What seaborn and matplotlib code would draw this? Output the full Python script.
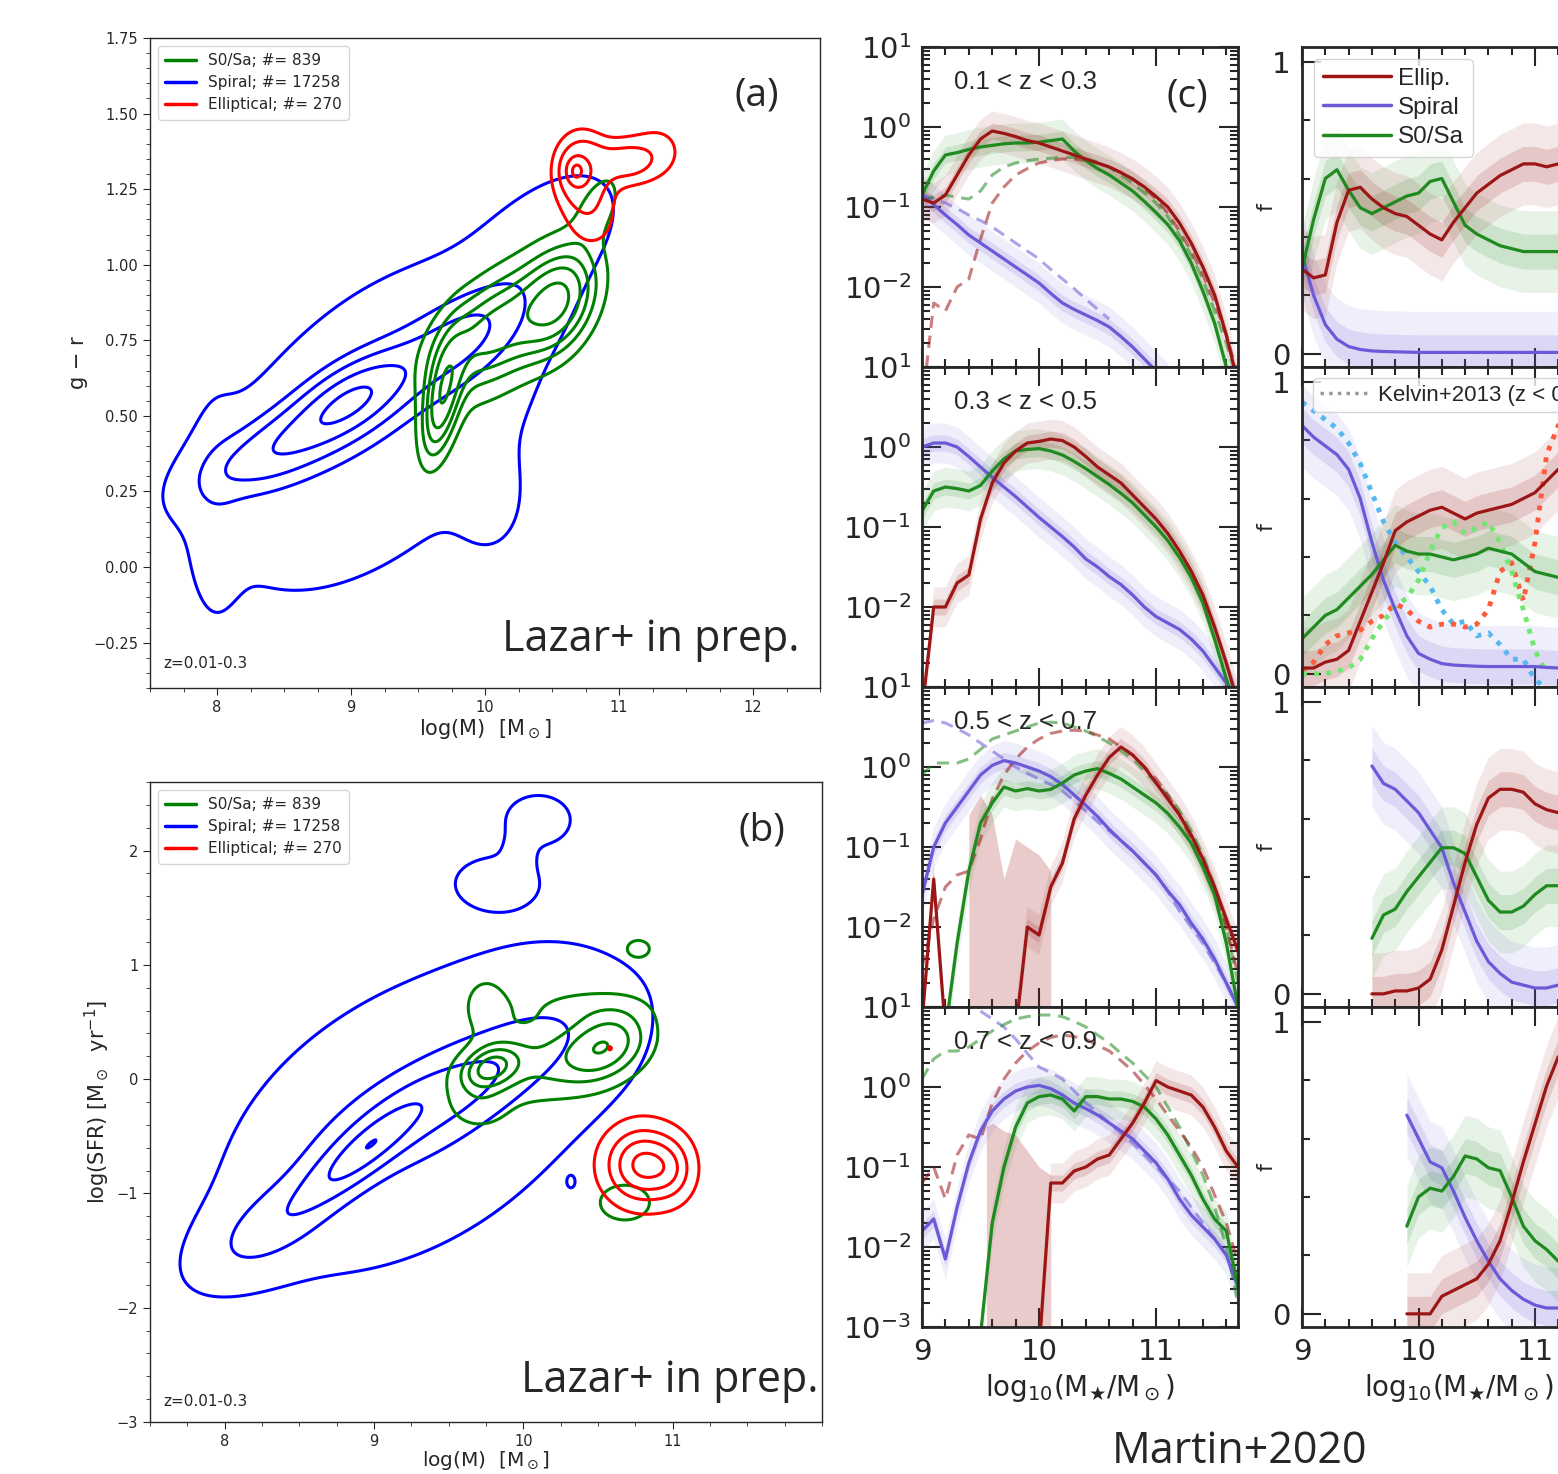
import numpy as np
import pandas as pd
import matplotlib
matplotlib.use("Agg")
import matplotlib.pyplot as plt
import seaborn as sns
from matplotlib.ticker import MultipleLocator, FixedLocator, NullFormatter, LogLocator

# ---------------- DATA ----------------
# Panels (a),(b): density blobs: (x0, y0, sx, sy, rho, weight)
A_S0 = [(9.68, 0.55, 0.10, 0.13, 0.5, 1.0), (10.55, 0.88, 0.18, 0.11, 0.3, 1.0),
        (10.05, 0.78, 0.30, 0.12, 0.5, 0.75), (10.2, 0.80, 0.45, 0.22, 0.6, 0.3),
        (10.85, 1.20, 0.12, 0.08, 0.5, 0.3)]
A_SPIRAL = [(9.0, 0.55, 0.30, 0.10, 0.6, 1.0), (8.4, 0.38, 0.35, 0.10, 0.6, 0.55),
            (9.8, 0.75, 0.35, 0.12, 0.6, 0.45), (9.2, 0.47, 0.90, 0.40, 0.5, 0.2),
            (10.5, 1.10, 0.35, 0.15, 0.5, 0.14), (10.05, 0.20, 0.18, 0.12, 0.0, 0.08),
            (7.98, 0.20, 0.13, 0.25, 0.0, 0.08)]
A_ELL = [(10.68, 1.31, 0.05, 0.03, 0.0, 1.0), (10.72, 1.31, 0.13, 0.08, 0.0, 0.8),
         (11.05, 1.34, 0.15, 0.05, 0.0, 0.5), (11.3, 1.38, 0.15, 0.07, 0.0, 0.22),
         (10.8, 1.15, 0.15, 0.08, 0.0, 0.25)]
A_LEVELS = {"S0": [0.15, 0.3, 0.45, 0.62, 0.85], "SP": [0.06, 0.22, 0.38, 0.62, 0.9],
            "EL": [0.1, 0.22, 0.5, 0.88]}

B_S0 = [(9.78, 0.10, 0.12, 0.12, 0.3, 1.0), (10.55, 0.30, 0.18, 0.20, 0.3, 0.8),
        (10.15, 0.15, 0.40, 0.25, 0.3, 0.5), (9.75, 0.65, 0.12, 0.20, 0.0, 0.3),
        (10.4, 0.65, 0.30, 0.12, 0.0, 0.2), (9.7, -0.25, 0.15, 0.15, 0.0, 0.25),
        (10.77, 1.14, 0.07, 0.07, 0.0, 0.35), (10.68, -1.08, 0.13, 0.12, 0.0, 0.45)]
B_SPIRAL = [(8.93, -0.63, 0.25, 0.28, 0.85, 1.0), (9.4, -0.2, 0.50, 0.40, 0.8, 0.55),
            (8.3, -1.3, 0.30, 0.30, 0.6, 0.38), (9.25, -0.35, 0.85, 0.90, 0.45, 0.3),
            (10.3, 0.5, 0.40, 0.45, 0.0, 0.12), (9.82, 1.72, 0.17, 0.14, 0.0, 0.3),
            (10.1, 2.27, 0.14, 0.14, 0.0, 0.3), (9.97, 1.98, 0.07, 0.12, 0.0, 0.2),
            (9.23, -1.08, 0.04, 0.03, 0.0, 0.12), (10.32, -0.9, 0.02, 0.04, 0.0, 0.1)]
B_ELL = [(10.8, -0.75, 0.16, 0.21, 0.0, 1.0), (11.0, -0.8, 0.10, 0.18, 0.0, 0.3),
         (10.58, 0.27, 0.01, 0.015, 0.0, 0.2)]
B_LEVELS = {"S0": [0.15, 0.35, 0.55, 0.8], "SP": [0.06, 0.22, 0.4, 0.7, 0.995],
            "EL": [0.12, 0.35, 0.6, 0.88]}

LEG_LABELS = ["S0/Sa; #= 839", "Spiral; #= 17258", "Elliptical; #= 270"]

# Panel (c) left: log10 of number density per redshift bin (x grid 9.0..11.7 step 0.1)
XG = [9.0, 9.1, 9.2, 9.3, 9.4, 9.5, 9.6, 9.7, 9.8, 9.9, 10.0, 10.1, 10.2, 10.3,
      10.4, 10.5, 10.6, 10.7, 10.8, 10.9, 11.0, 11.1, 11.2, 11.3, 11.4, 11.5, 11.6, 11.7]
NAN = np.nan
# z 0.1-0.3
Z1_ELL = [-0.9, -0.95, -0.85, -0.6, -0.35, -0.15, -0.05, -0.08, -0.12, -0.17, -0.2, -0.25, -0.3, -0.35,
          -0.4, -0.45, -0.5, -0.57, -0.65, -0.75, -0.87, -1.0, -1.2, -1.45, -1.75, -2.1, -2.6, -3.2]
Z1_S0 = [-0.85, -0.55, -0.35, -0.32, -0.28, -0.25, -0.23, -0.21, -0.2, -0.2, -0.19, -0.17, -0.15, -0.3,
         -0.42, -0.52, -0.6, -0.7, -0.8, -0.93, -1.07, -1.22, -1.42, -1.7, -2.05, -2.45, -3.0, -3.6]
Z1_SP = [-0.85, -0.97, -1.1, -1.22, -1.35, -1.45, -1.55, -1.65, -1.75, -1.85, -1.95, -2.08, -2.2, -2.28,
         -2.35, -2.42, -2.5, -2.62, -2.75, -2.9, -3.05, -3.2, NAN, NAN, NAN, NAN, NAN, NAN]
Z1_ELL_D = [-3.5, -2.2, -2.3, -2.0, -1.9, -1.4, -0.95, -0.75, -0.6, -0.52, -0.45, -0.42, -0.4, -0.4,
            -0.42, -0.45, -0.5, -0.57, -0.65, -0.77, -0.9, -1.08, -1.3, -1.55, -1.85, -2.2, -2.6, -3.1]
Z1_S0_D = [-0.9, -0.88, -0.85, -0.88, -0.9, -0.8, -0.6, -0.5, -0.45, -0.42, -0.4, -0.39, -0.38, -0.38,
           -0.4, -0.44, -0.5, -0.6, -0.7, -0.82, -0.95, -1.12, -1.35, -1.6, -1.9, -2.3, -2.7, -3.2]
Z1_SP_D = [-0.85, -0.9, -0.95, -1.02, -1.1, -1.17, -1.25, -1.35, -1.45, -1.55, -1.65, -1.78, -1.9, -2.02,
           -2.15, -2.28, -2.4, NAN, NAN, NAN, NAN, NAN, NAN, NAN, NAN, NAN, NAN, NAN]
# z 0.3-0.5
Z2_ELL = [-3.3, -2.0, -2.0, -1.7, -1.6, -0.9, -0.45, -0.2, -0.05, 0.05, 0.07, 0.1, 0.08, 0.0,
          -0.12, -0.25, -0.35, -0.45, -0.6, -0.75, -0.9, -1.08, -1.3, -1.55, -1.85, -2.25, -2.7, -3.2]
Z2_S0 = [-0.8, -0.55, -0.5, -0.52, -0.55, -0.48, -0.3, -0.15, -0.05, -0.03, -0.02, -0.05, -0.1, -0.18,
         -0.27, -0.37, -0.47, -0.58, -0.7, -0.85, -1.0, -1.17, -1.38, -1.63, -1.95, -2.4, -2.9, -3.3]
Z2_SP = [0.0, 0.05, 0.05, 0.0, -0.12, -0.25, -0.38, -0.5, -0.62, -0.75, -0.88, -1.0, -1.12, -1.25,
         -1.4, -1.5, -1.62, -1.72, -1.85, -2.0, -2.12, -2.2, -2.28, -2.4, -2.55, -2.75, -2.95, -3.2]
# z 0.5-0.7
Z3_ELL = [-3.2, -1.4, -3.3, NAN, NAN, NAN, NAN, NAN, -3.3, -2.0, -2.1, -1.5, -1.2, -0.65,
          -0.35, -0.1, 0.12, 0.25, 0.15, 0.0, -0.2, -0.4, -0.6, -0.85, -1.15, -1.5, -1.9, -2.3]
Z3_S0 = [NAN, NAN, -3.3, -2.2, -1.3, -0.7, -0.45, -0.25, -0.3, -0.27, -0.3, -0.28, -0.2, -0.1,
         -0.05, -0.02, -0.08, -0.15, -0.25, -0.35, -0.45, -0.58, -0.75, -0.95, -1.25, -1.6, -2.2, -3.0]
Z3_SP = [-1.6, -1.0, -0.7, -0.5, -0.3, -0.1, 0.02, 0.08, 0.05, 0.0, -0.05, -0.12, -0.22, -0.35,
         -0.48, -0.62, -0.78, -0.92, -1.05, -1.2, -1.35, -1.55, -1.72, -1.95, -2.15, -2.4, -2.7, -3.0]
Z3_ELL_D = [-2.5, -1.9, -1.5, -1.35, -1.3, -0.9, -0.4, -0.1, 0.1, 0.25, 0.35, 0.42, 0.45, 0.46,
            0.45, 0.4, 0.35, 0.25, 0.15, 0.0, -0.15, -0.35, -0.6, -0.9, -1.2, -1.55, -2.0, -2.6]
Z3_S0_D = [-0.1, 0.05, 0.05, 0.05, 0.1, 0.22, 0.35, 0.4, 0.45, 0.5, 0.55, 0.56, 0.55, 0.5,
           0.45, 0.38, 0.3, 0.2, 0.1, -0.05, -0.2, -0.35, -0.55, -0.8, -1.1, -1.5, -2.0, -2.7]
Z3_SP_D = [0.55, 0.58, 0.55, 0.48, 0.4, 0.3, 0.2, 0.1, 0.0, -0.08, -0.15, -0.22, -0.3, -0.42,
           -0.55, -0.68, -0.8, -0.92, -1.05, -1.2, -1.35, -1.55, -1.8, -2.0, -2.2, -2.45, -2.7, -3.0]
# z 0.7-0.9
Z4_ELL = [NAN, NAN, NAN, NAN, NAN, NAN, NAN, NAN, NAN, NAN, -3.3, -1.2, -1.2, -1.05,
          -1.0, -0.9, -0.85, -0.65, -0.45, -0.2, 0.08, 0.0, -0.05, -0.1, -0.25, -0.5, -0.8, -1.0]
Z4_S0 = [NAN, NAN, NAN, NAN, NAN, -3.1, -1.7, -1.0, -0.5, -0.2, -0.12, -0.1, -0.15, -0.3,
         -0.12, -0.12, -0.15, -0.15, -0.18, -0.25, -0.4, -0.6, -0.85, -1.1, -1.4, -1.65, -1.8, -2.5]
Z4_SP = [-1.8, -1.65, -2.15, -1.5, -0.95, -0.55, -0.3, -0.15, -0.05, 0.0, 0.02, -0.02, -0.1, -0.2,
         -0.27, -0.35, -0.45, -0.55, -0.65, -0.8, -0.95, -1.15, -1.4, -1.6, -1.75, -1.9, -2.1, -2.5]
Z4_ELL_D = [-1.2, -1.0, -1.4, -0.85, -0.6, -0.65, -0.2, 0.1, 0.3, 0.45, 0.55, 0.62, 0.65, 0.63,
            0.6, 0.52, 0.45, 0.33, 0.2, 0.03, -0.15, -0.35, -0.55, -0.75, -1.0, -1.35, -1.7, -2.2]
Z4_S0_D = [0.1, 0.35, 0.45, 0.45, 0.5, 0.6, 0.7, 0.78, 0.85, 0.88, 0.9, 0.9, 0.88, 0.82,
           0.75, 0.65, 0.55, 0.42, 0.3, 0.15, 0.0, -0.25, -0.5, -0.8, -1.1, -1.5, -2.0, -2.7]
Z4_SP_D = [NAN, NAN, NAN, NAN, NAN, 0.95, 0.85, 0.75, 0.6, 0.42, 0.25, 0.18, 0.1, -0.05,
           -0.2, -0.32, -0.45, -0.58, -0.7, -0.85, -1.0, -1.15, -1.3, -1.5, -1.7, -1.9, -2.1, -2.5]
# broad low-mass elliptical uncertainty envelopes (log10 upper edge)
Z3_ENV_X = [9.4, 9.5, 9.6, 9.7, 9.8, 9.9, 10.0, 10.1]
Z3_ENV_HI = [-0.6, -0.35, -0.6, -1.4, -0.9, -1.0, -1.1, -1.3]
Z4_ENV_X = [9.55, 9.6, 9.7, 9.8, 9.9, 10.0, 10.1]
Z4_ENV_HI = [-0.5, -0.45, -0.55, -0.6, -0.8, -1.0, -1.1]
Z_LABELS = ["0.1 < z < 0.3", "0.3 < z < 0.5", "0.5 < z < 0.7", "0.7 < z < 0.9"]

# Panel (c) right: fractions
F1_ELL = [0.29, 0.26, 0.27, 0.45, 0.56, 0.57, 0.53, 0.5, 0.48, 0.47, 0.44, 0.41, 0.39, 0.45,
          0.5, 0.55, 0.58, 0.61, 0.63, 0.65, 0.65, 0.64, 0.65, 0.66, 0.67, 0.68, 0.7, 0.72]
F1_S0 = [0.29, 0.46, 0.6, 0.63, 0.56, 0.5, 0.48, 0.5, 0.52, 0.54, 0.55, 0.59, 0.6, 0.52,
         0.44, 0.41, 0.39, 0.37, 0.36, 0.35, 0.35, 0.35, 0.35, 0.33, 0.32, 0.3, 0.28, 0.27]
F1_SP = [0.34, 0.2, 0.1, 0.05, 0.025, 0.015, 0.01, 0.008, 0.007, 0.006, 0.005, 0.005, 0.005, 0.005,
         0.005, 0.005, 0.005, 0.005, 0.005, 0.005, 0.005, 0.005, 0.005, 0.005, 0.005, 0.005, 0.005, 0.005]
F2_ELL = [0.02, 0.02, 0.04, 0.05, 0.08, 0.18, 0.28, 0.38, 0.49, 0.52, 0.54, 0.56, 0.57, 0.55,
          0.53, 0.55, 0.56, 0.57, 0.58, 0.6, 0.62, 0.66, 0.7, 0.73, 0.75, 0.77, 0.78, 0.8]
F2_S0 = [0.12, 0.16, 0.2, 0.22, 0.26, 0.3, 0.34, 0.39, 0.44, 0.42, 0.41, 0.41, 0.4, 0.39,
         0.4, 0.41, 0.43, 0.42, 0.41, 0.38, 0.35, 0.34, 0.33, 0.3, 0.28, 0.27, 0.26, 0.25]
F2_SP = [0.85, 0.81, 0.78, 0.75, 0.7, 0.6, 0.45, 0.32, 0.22, 0.13, 0.07, 0.05, 0.035, 0.03,
         0.028, 0.026, 0.025, 0.025, 0.025, 0.025, 0.025, 0.022, 0.02, 0.02, 0.02, 0.02, 0.02, 0.02]
K_SP = [0.93, 0.9, 0.87, 0.84, 0.79, 0.72, 0.62, 0.52, 0.45, 0.4, 0.35, 0.3, 0.22, 0.17,
        0.18, 0.13, 0.14, 0.1, 0.05, 0.05, -0.02, -0.05, NAN, NAN, NAN, NAN, NAN, NAN]
K_ELL = [0.01, 0.04, 0.1, 0.13, 0.14, 0.15, 0.18, 0.2, 0.24, 0.22, 0.18, 0.16, 0.17, 0.17,
         0.16, 0.17, 0.22, 0.35, 0.38, 0.25, 0.45, 0.75, 0.85, 0.8, 0.7, 0.6, 0.5, 0.4]
K_S0 = [0.0, 0.0, 0.0, 0.01, 0.02, 0.05, 0.12, 0.18, 0.23, 0.26, 0.32, 0.42, 0.5, 0.52,
        0.48, 0.5, 0.52, 0.45, 0.35, 0.22, 0.08, 0.0, NAN, NAN, NAN, NAN, NAN, NAN]
XG3 = [9.6, 9.7, 9.8, 9.9, 10.0, 10.1, 10.2, 10.3, 10.4, 10.5, 10.6, 10.7, 10.8, 10.9,
       11.0, 11.1, 11.2, 11.3, 11.4, 11.5, 11.6, 11.7]
F3_ELL = [0.0, 0.0, 0.01, 0.01, 0.02, 0.05, 0.15, 0.3, 0.45, 0.58, 0.67, 0.7, 0.7, 0.69,
          0.65, 0.63, 0.62, 0.62, 0.63, 0.65, 0.66, 0.68]
F3_S0 = [0.19, 0.27, 0.29, 0.35, 0.4, 0.45, 0.5, 0.5, 0.48, 0.4, 0.32, 0.28, 0.28, 0.3,
         0.34, 0.37, 0.37, 0.36, 0.34, 0.32, 0.3, 0.3]
F3_SP = [0.78, 0.72, 0.7, 0.66, 0.62, 0.56, 0.5, 0.38, 0.28, 0.18, 0.11, 0.07, 0.04, 0.03,
         0.02, 0.02, 0.03, 0.03, 0.03, 0.03, 0.03, 0.03]
XG4 = [9.9, 10.0, 10.1, 10.2, 10.3, 10.4, 10.5, 10.6, 10.7, 10.8, 10.9, 11.0, 11.1, 11.2,
       11.3, 11.4, 11.5, 11.6, 11.7]
F4_ELL = [0.0, 0.0, 0.0, 0.06, 0.08, 0.1, 0.12, 0.17, 0.25, 0.38, 0.52, 0.65, 0.78, 0.88,
          0.9, 0.9, 0.9, 0.9, 0.9]
F4_S0 = [0.3, 0.4, 0.43, 0.42, 0.47, 0.54, 0.53, 0.5, 0.49, 0.4, 0.3, 0.25, 0.22, 0.18,
         0.15, 0.12, 0.1, 0.1, 0.1]
F4_SP = [0.68, 0.6, 0.52, 0.5, 0.42, 0.33, 0.25, 0.18, 0.12, 0.08, 0.05, 0.03, 0.02, 0.02,
         0.02, 0.02, 0.02, 0.02, 0.02]
R_LEGEND = ["Ellip.", "Spiral", "S0/Sa"]

# ---------------- STYLE ----------------
sns.set_style("ticks")
plt.rcParams['font.family'] = ['DejaVu Sans']
C_EL, C_SP, C_S0 = "#9c1616", "#6a5ad8", "#1f8a1f"
C_KSP, C_KEL, C_KS0 = "#55b8f0", "#ff5a3c", "#70e870"

fig = plt.figure(figsize=(15.58, 14.74), dpi=100)
W, H = 1558.0, 1474.0


def axes_px(l, t, r, b):
    return fig.add_axes([l / W, 1 - b / H, (r - l) / W, (b - t) / H])


def density(X, Y, comps):
    Z = np.zeros_like(X)
    for (mx, my, sx, sy, rho, w) in comps:
        dx, dy = (X - mx) / sx, (Y - my) / sy
        q = (dx * dx - 2 * rho * dx * dy + dy * dy) / (1 - rho * rho)
        Z += w * np.exp(-0.5 * q)
    return Z


def contour_panel(ax, xlim, ylim, sets, levels):
    xx = np.linspace(xlim[0], xlim[1], 600)
    yy = np.linspace(ylim[0], ylim[1], 600)
    X, Y = np.meshgrid(xx, yy)
    for key, comps, col in sets:
        Z = density(X, Y, comps)
        ax.contour(X, Y, Z, levels=np.array(levels[key]) * Z.max(), colors=col, linewidths=2.2)


# ----- panel (a)
axa = axes_px(150, 38, 820, 688)
contour_panel(axa, (7.5, 12.5), (-0.4, 1.75),
              [("SP", A_SPIRAL, "blue"), ("S0", A_S0, "green"), ("EL", A_ELL, "red")], A_LEVELS)
axa.set_xlim(7.5, 12.5)
axa.set_ylim(-0.4, 1.75)
axa.xaxis.set_major_locator(FixedLocator([8, 9, 10, 11, 12]))
axa.xaxis.set_minor_locator(MultipleLocator(0.25))
axa.yaxis.set_major_locator(FixedLocator([-0.25, 0, 0.25, 0.5, 0.75, 1.0, 1.25, 1.5, 1.75]))
axa.yaxis.set_minor_locator(MultipleLocator(0.05))
axa.set_yticklabels(["\u22120.25", "0.00", "0.25", "0.50", "0.75", "1.00", "1.25", "1.50", "1.75"])
axa.set_xlabel("log(M)  [M$_\\odot$]", fontsize=15, labelpad=2)
axa.set_ylabel("g \u2212 r", fontsize=15)
axa.text(0.02, 0.03, "z=0.01-0.3", transform=axa.transAxes, fontsize=11)
axa.text(0.97, 0.04, "Lazar+ in prep.", transform=axa.transAxes, fontsize=31,
         ha="right", va="bottom", family="Open Sans")
axa.text(0.906, 0.912, "(a)", transform=axa.transAxes, fontsize=28, ha="center", va="center",
         family="Open Sans")

# ----- panel (b)
axb = axes_px(150, 782, 822, 1422)
contour_panel(axb, (7.5, 12.0), (-3.0, 2.6),
              [("SP", B_SPIRAL, "blue"), ("S0", B_S0, "green"), ("EL", B_ELL, "red")], B_LEVELS)
axb.set_xlim(7.5, 12.0)
axb.set_ylim(-3.0, 2.6)
axb.xaxis.set_major_locator(FixedLocator([8, 9, 10, 11]))
axb.xaxis.set_minor_locator(MultipleLocator(0.25))
axb.yaxis.set_major_locator(FixedLocator([-3, -2, -1, 0, 1, 2]))
axb.yaxis.set_minor_locator(MultipleLocator(0.2))
axb.set_yticklabels(["\u22123", "\u22122", "\u22121", "0", "1", "2"])
axb.set_xlabel("log(M)  [M$_\\odot$]", fontsize=14.5, labelpad=0)
axb.set_ylabel("log(SFR) [M$_\\odot$  yr$^{-1}$]", fontsize=15)
axb.text(0.02, 0.025, "z=0.01-0.3", transform=axb.transAxes, fontsize=11)
axb.text(0.995, 0.03, "Lazar+ in prep.", transform=axb.transAxes, fontsize=31,
         ha="right", va="bottom", family="Open Sans")
axb.text(0.911, 0.925, "(b)", transform=axb.transAxes, fontsize=28, ha="center", va="center",
         family="Open Sans")

for ax in (axa, axb):
    ax.tick_params(labelsize=10.5, which="major", length=5)
    ax.tick_params(which="minor", length=3)
    for s in ax.spines.values():
        s.set_linewidth(1.0)
    handles = [plt.Line2D([], [], color=c, lw=2.5) for c in ("green", "blue", "red")]
    ax.legend(handles, LEG_LABELS, loc="upper left", fontsize=11, frameon=True,
              handlelength=2.0, borderpad=0.5, labelspacing=0.45)

# ----- panel (c) left
zsets = [
    (Z1_ELL, Z1_S0, Z1_SP, Z1_ELL_D, Z1_S0_D, Z1_SP_D, None, None),
    (Z2_ELL, Z2_S0, Z2_SP, None, None, None, None, None),
    (Z3_ELL, Z3_S0, Z3_SP, Z3_ELL_D, Z3_S0_D, Z3_SP_D, Z3_ENV_X, Z3_ENV_HI),
    (Z4_ELL, Z4_S0, Z4_SP, Z4_ELL_D, Z4_S0_D, Z4_SP_D, Z4_ENV_X, Z4_ENV_HI),
]


def seg_plot(ax, xs, vals, color, ls, alpha, lw, log=True):
    xs = np.asarray(xs, float)
    v = np.asarray(vals, float)
    ok = ~np.isnan(v)
    idx = np.where(ok)[0]
    if len(idx) == 0:
        return
    groups = np.split(idx, np.where(np.diff(idx) > 1)[0] + 1)
    for g in groups:
        yv = 10 ** v[g] if log else v[g]
        df = pd.DataFrame({"x": xs[g], "y": yv})
        sns.lineplot(data=df, x="x", y="y", ax=ax, color=color, linestyle=ls,
                     alpha=alpha, lw=lw, sort=False, estimator=None)


def band(ax, xs, vals, color, widths, alphas, log=True):
    xs = np.asarray(xs, float)
    v = np.asarray(vals, float)
    for w, a in zip(widths, alphas):
        if log:
            ax.fill_between(xs, 10 ** (v - w), 10 ** (v + w), color=color, alpha=a, lw=0)
        else:
            ax.fill_between(xs, v - w, v + w, color=color, alpha=a, lw=0)


tops = [47, 367, 687, 1007]
for i, (el, s0, sp, eld, s0d, spd, envx, envhi) in enumerate(zsets):
    ax = axes_px(922, tops[i], 1238, tops[i] + 320)
    if envx is not None:
        ax.fill_between(envx, 1e-4, 10 ** np.asarray(envhi), color=C_EL, alpha=0.22, lw=0)
    for vals, col in ((sp, C_SP), (s0, C_S0), (el, C_EL)):
        band(ax, XG, vals, col, (0.25, 0.1), (0.1, 0.15))
    for vals, col in ((spd, C_SP), (s0d, C_S0), (eld, C_EL)):
        if vals is not None:
            seg_plot(ax, XG, vals, col, (0, (4, 2.5)), 0.55, 2.2)
    for vals, col in ((sp, C_SP), (s0, C_S0), (el, C_EL)):
        seg_plot(ax, XG, vals, col, "-", 1.0, 2.3)
    ax.set_yscale("log")
    ax.set_xlim(9, 11.7)
    ax.set_ylim(1e-3, 1e1)
    ax.yaxis.set_major_locator(FixedLocator([1e-3, 1e-2, 1e-1, 1e0, 1e1]))
    ax.yaxis.set_minor_locator(LogLocator(base=10, subs=np.arange(2, 10), numticks=20))
    ax.yaxis.set_minor_formatter(NullFormatter())
    if i < 3:
        ax.set_yticklabels(["", "$10^{-2}$", "$10^{-1}$", "$10^{0}$", "$10^{1}$"])
    else:
        ax.set_yticklabels(["$10^{-3}$", "$10^{-2}$", "$10^{-1}$", "$10^{0}$", "$10^{1}$"])
    ax.xaxis.set_major_locator(FixedLocator([9, 10, 11]))
    ax.xaxis.set_minor_locator(MultipleLocator(0.2))
    ax.tick_params(which="both", direction="in", top=True, right=True, width=1.5)
    ax.tick_params(which="major", length=14, labelsize=21, pad=8)
    ax.tick_params(which="minor", length=6)
    ax.set_xlabel("")
    ax.set_ylabel("")
    for s in ax.spines.values():
        s.set_linewidth(2.0)
    ax.text(0.1, 0.89, Z_LABELS[i], transform=ax.transAxes, fontsize=18.5, va="center",
            family="Liberation Sans")
    if i == 0:
        ax.text(0.84, 0.844, "(c)", transform=ax.transAxes, fontsize=28, va="center", ha="center",
                family="Open Sans")
    if i < 3:
        ax.set_xticklabels([])
    else:
        ax.set_xticklabels(["9", "10", "11"])
        ax.set_xlabel("log$_{10}$(M$_\\bigstar$/M$_\\odot$)", fontsize=20, labelpad=4)

# ----- panel (c) right
rsets = [
    (XG, F1_ELL, F1_S0, F1_SP),
    (XG, F2_ELL, F2_S0, F2_SP),
    (XG3, F3_ELL, F3_S0, F3_SP),
    (XG4, F4_ELL, F4_S0, F4_SP),
]
for i, (xs, el, s0, sp) in enumerate(rsets):
    ax = axes_px(1302, tops[i], 1302 + 2.7 * 116.5, tops[i] + 320)
    for vals, col in ((sp, C_SP), (s0, C_S0), (el, C_EL)):
        band(ax, xs, vals, col, (0.14, 0.06), (0.1, 0.15), log=False)
    if i == 1:
        seg_plot(ax, XG, K_SP, C_KSP, (0, (1, 1.5)), 1.0, 3.5, log=False)
        seg_plot(ax, XG, K_ELL, C_KEL, (0, (1, 1.5)), 1.0, 3.5, log=False)
        seg_plot(ax, XG, K_S0, C_KS0, (0, (1, 1.5)), 1.0, 3.5, log=False)
    for vals, col in ((sp, C_SP), (s0, C_S0), (el, C_EL)):
        seg_plot(ax, xs, vals, col, "-", 1.0, 2.3, log=False)
    ax.set_xlim(9, 11.7)
    ax.set_ylim(-0.045, 1.05)
    ax.yaxis.set_major_locator(FixedLocator([0, 1]))
    ax.yaxis.set_minor_locator(MultipleLocator(0.2))
    ax.set_yticklabels(["0", "1"])
    ax.xaxis.set_major_locator(FixedLocator([9, 10, 11]))
    ax.xaxis.set_minor_locator(MultipleLocator(0.2))
    ax.tick_params(which="both", direction="in", top=True, right=True, width=1.5)
    ax.tick_params(which="major", length=14, labelsize=21, pad=8)
    ax.tick_params(which="minor", length=6)
    ax.set_xlabel("")
    ax.set_ylabel("f", fontsize=16, rotation=90, labelpad=-3)
    for s in ax.spines.values():
        s.set_linewidth(2.0)
    if i == 0:
        hs = [plt.Line2D([], [], color=c, lw=2.5) for c in (C_EL, C_SP, C_S0)]
        ax.legend(hs, R_LEGEND, loc="upper left", frameon=True,
                  handlelength=2.8, borderpad=0.35, labelspacing=0.3, handletextpad=0.3,
                  prop={"family": "Liberation Sans", "size": 17.5})
    if i == 1:
        hk = [plt.Line2D([], [], color="#999999", lw=2.5, ls=(0, (1, 1.5)))]
        ax.legend(hk, ["Kelvin+2013 (z < 0.06)"], loc="upper left", frameon=True,
                  handlelength=2.2, borderpad=0.3, handletextpad=0.4,
                  prop={"family": "Liberation Sans", "size": 16})
    if i < 3:
        ax.set_xticklabels([])
    else:
        ax.set_xticklabels(["9", "10", "11"])
        ax.set_xlabel("log$_{10}$(M$_\\bigstar$/M$_\\odot$)", fontsize=20, labelpad=4)

fig.text(1240 / W, 1 - 1452 / H, "Martin+2020", fontsize=31, ha="center", va="center",
         family="Open Sans")

fig.savefig("out.png", dpi=100)
